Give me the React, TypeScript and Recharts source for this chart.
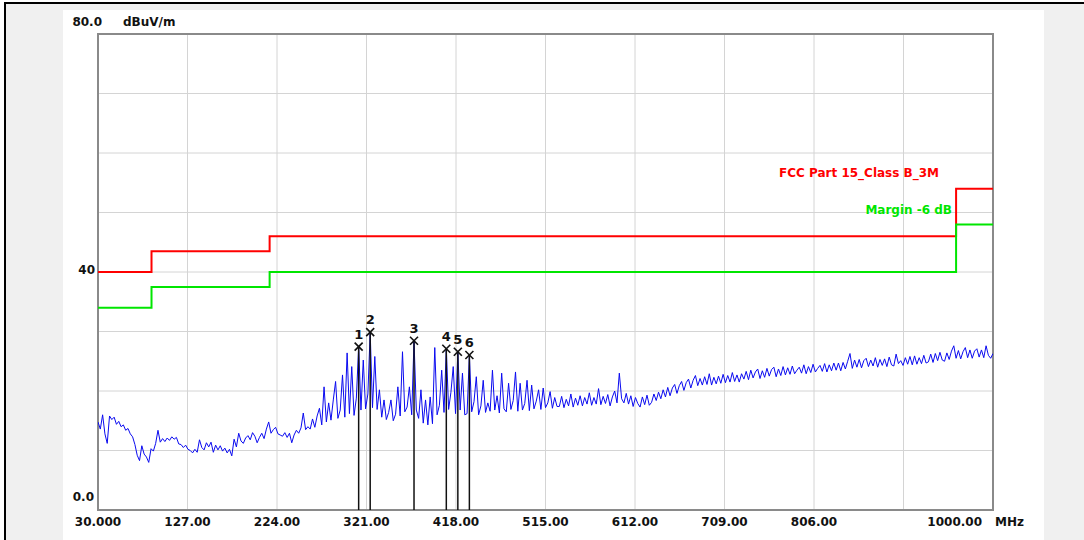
import React from 'react';
import {
  ComposedChart,
  Line,
  Scatter,
  XAxis,
  YAxis,
  CartesianGrid,
  ReferenceLine,
  ReferenceArea,
} from 'recharts';

// ---- sweep: measured level (dBuV/m), one reading every 2.5 MHz ----
const SWEEP_STEP_MHZ = 2.5;

const trace030 = [
  14.8, 13.6, 16.0, 12.8, 11.2, 15.8, 15.2, 15.6, 14.4, 14.9,
  14.0, 14.3, 13.4, 13.7, 12.8, 12.3, 11.0, 9.2, 8.3, 10.8,
  9.4, 8.9, 8.0, 10.3, 9.9, 11.2, 13.4, 11.4, 12.0, 11.5,
  12.1, 11.7, 12.3, 11.9, 12.2, 11.1, 11.0, 10.5, 10.9, 10.2,
];
const trace130 = [
  10.0, 9.6, 10.2, 9.7, 11.8, 10.5, 10.1, 11.3, 10.6, 11.4,
  9.7, 10.9, 10.1, 10.8, 9.9, 10.4, 9.6, 10.2, 9.1, 11.9,
  10.6, 12.9, 11.6, 11.2, 12.1, 12.5, 11.8, 13.0, 12.4, 11.3,
  12.2, 12.9, 12.0, 13.6, 14.8, 12.9, 13.5, 13.9, 12.8, 12.6,
];
const trace230 = [
  12.4, 13.0, 12.2, 12.9, 11.3, 12.6, 13.4, 12.9, 13.8, 16.3,
  13.5, 14.0, 13.6, 15.3, 13.9, 15.8, 17.1, 14.3, 20.7, 14.8,
  18.0, 15.1, 18.5, 21.6, 15.4, 16.8, 22.7, 15.6, 26.4, 16.2,
  24.1, 15.9, 18.8, 27.45, 16.8, 25.2, 17.0, 19.5, 29.9, 17.2,
];
const trace330 = [
  25.8, 16.9, 20.2, 15.6, 18.5, 15.2, 16.4, 18.5, 15.0, 16.1,
  20.7, 15.8, 26.6, 16.5, 17.3, 20.7, 16.0, 28.45, 16.8, 15.4,
  20.2, 14.6, 18.5, 14.3, 19.0, 14.5, 27.3, 16.0, 17.6, 23.5,
  16.4, 27.1, 16.9, 19.8, 24.1, 16.2, 26.6, 16.8, 23.0, 16.0,
];
const trace430 = [
  16.2, 26.05, 16.5, 18.2, 22.4, 16.0, 17.5, 21.8, 16.4, 18.0,
  16.6, 23.5, 16.8, 19.2, 16.3, 23.0, 17.0, 16.5, 21.3, 16.9,
  18.4, 23.2, 16.6, 21.3, 16.8, 17.9, 21.8, 16.7, 21.0, 17.0,
  18.3, 20.2, 16.9, 20.5, 17.2, 18.0, 19.9, 17.1, 18.9, 17.4,
];
const trace530 = [
  17.4, 19.1, 17.2, 18.6, 17.5, 19.5, 17.3, 18.8, 17.6, 19.2,
  17.5, 18.9, 17.8, 19.7, 17.6, 18.9, 17.8, 20.4, 17.7, 19.1,
  17.9, 19.4, 17.5, 19.0, 20.0, 18.0, 23.0, 18.7, 18.0, 19.6,
  17.8, 19.2, 17.4, 18.9, 17.9, 17.3, 19.0, 17.7, 19.3, 17.6,
];
const trace630 = [
  18.1, 19.5, 18.4, 19.8, 18.7, 20.2, 19.0, 20.6, 19.2, 20.5,
  21.1, 19.6, 20.9, 21.6, 20.1, 21.4, 22.0, 20.5, 21.8, 22.6,
  20.9, 22.1, 21.0, 22.4, 21.1, 22.9, 21.0, 22.3, 21.2, 22.5,
  21.3, 22.8, 21.4, 22.6, 21.5, 23.1, 21.6, 22.7, 21.5, 22.9,
];
const trace730 = [
  22.0, 23.3, 21.9, 23.5, 22.2, 23.2, 23.7, 22.1, 23.4, 22.3,
  23.8, 22.5, 23.6, 24.0, 22.4, 23.7, 22.6, 24.1, 22.7, 23.9,
  22.8, 24.2, 22.9, 23.5, 24.0, 23.0, 24.4, 22.9, 24.1, 23.1,
  24.5, 23.2, 23.8, 24.3, 23.3, 24.6, 23.2, 24.4, 23.4, 24.7,
];
const trace830 = [
  23.5, 24.7, 23.4, 24.8, 23.7, 25.0, 26.3, 23.8, 25.2, 24.0,
  25.3, 23.9, 25.1, 25.5, 24.1, 25.2, 24.2, 25.6, 24.0, 25.3,
  24.3, 25.4, 24.1, 25.7, 24.4, 24.2, 26.2, 24.6, 25.1, 24.3,
  25.6, 24.5, 25.8, 24.4, 25.9, 24.5, 25.6, 24.6, 26.0, 24.7,
];
const trace930 = [
  24.9, 26.2, 24.8, 26.3, 25.1, 26.5, 25.2, 25.0, 26.4, 25.3,
  26.7, 27.6, 25.5, 26.8, 25.4, 26.6, 27.3, 25.6, 26.9, 25.5,
  26.7, 27.1, 25.7, 26.9, 25.6, 27.6, 26.0, 25.5, 26.3,
];

const traceSegments = [
  { startMHz: 30, levels: trace030 },
  { startMHz: 130, levels: trace130 },
  { startMHz: 230, levels: trace230 },
  { startMHz: 330, levels: trace330 },
  { startMHz: 430, levels: trace430 },
  { startMHz: 530, levels: trace530 },
  { startMHz: 630, levels: trace630 },
  { startMHz: 730, levels: trace730 },
  { startMHz: 830, levels: trace830 },
  { startMHz: 930, levels: trace930 },
];

// ---- limit lines ----
const limitFreqs = [30, 88, 216, 960, 1000];
const fccClassB3m = [40, 43.5, 46, 54, 54];
const margin6dB = [34, 37.5, 40, 48, 48];

// ---- markers ----
const markerFreqs = [312.5, 325, 372.5, 407.5, 420, 432.5];
const markerLevels = [27.45, 29.9, 28.45, 27.1, 26.6, 26.05];
const markerLabels = ['1', '2', '3', '4', '5', '6'];

// ---- axes ----
const freqTicks = [30, 127, 224, 321, 418, 515, 612, 709, 806, 903, 1000];
const freqTickLabels = ['30.000', '127.00', '224.00', '321.00', '418.00', '515.00', '612.00', '709.00', '806.00', '', '1000.00'];
const levelTicks = [0, 10, 20, 30, 40, 50, 60, 70, 80];
const levelTickLabels: Record<number, string> = { 0: '0.0', 40: '40', 80: '80.0' };

const traceData = traceSegments.flatMap((seg) =>
  seg.levels.map((level, i) => ({ freq: seg.startMHz + i * SWEEP_STEP_MHZ, level }))
);
const fccData = limitFreqs.map((freq, i) => ({ freq, level: fccClassB3m[i] }));
const marginData = limitFreqs.map((freq, i) => ({ freq, level: margin6dB[i] }));
const markerData = markerFreqs.map((freq, i) => ({ freq, level: markerLevels[i], label: markerLabels[i] }));

const FONT = '"DejaVu Sans", "Liberation Sans", sans-serif';
const textStyle = { fontFamily: FONT, fontWeight: 700, fontSize: 12, fill: '#111' } as const;

const FreqTick = (props: any) => {
  const { x, y, payload } = props;
  const idx = freqTicks.indexOf(payload.value);
  const label = idx >= 0 ? freqTickLabels[idx] : '';
  if (!label) return null;
  if (payload.value === 1000) {
    return (
      <g>
        <text x={x - 11} y={y + 16} textAnchor="end" style={textStyle}>{label}</text>
        <text x={x + 2} y={y + 16} textAnchor="start" style={textStyle}>MHz</text>
      </g>
    );
  }
  return (
    <text x={x} y={y + 16} textAnchor="middle" style={textStyle}>{label}</text>
  );
};

const LevelTick = (props: any) => {
  const { x, y, payload } = props;
  const label = levelTickLabels[payload.value];
  if (!label) return null;
  if (payload.value === 80) {
    return (
      <g>
        <text x={x + 4} y={y - 8} textAnchor="end" style={textStyle}>{label}</text>
        <text x={x + 25} y={y - 8} textAnchor="start" style={textStyle}>dBuV/m</text>
      </g>
    );
  }
  if (payload.value === 0) {
    return <text x={x - 4} y={y - 9} textAnchor="end" style={textStyle}>{label}</text>;
  }
  return <text x={x - 3} y={y + 2} textAnchor="end" style={textStyle}>{label}</text>;
};

const MarkerShape = (props: any) => {
  const { cx, cy, payload } = props;
  if (cx == null || cy == null) return null;
  const s = 4;
  return (
    <g>
      <line x1={cx - s} y1={cy - s} x2={cx + s} y2={cy + s} stroke="#111" strokeWidth={1.6} />
      <line x1={cx - s} y1={cy + s} x2={cx + s} y2={cy - s} stroke="#111" strokeWidth={1.6} />
      <text x={cx} y={cy - 8} textAnchor="middle" style={{ ...textStyle, fontSize: 13 }}>{payload.label}</text>
    </g>
  );
};

export default function App() {
  return (
    <div style={{ position: 'fixed', left: 0, top: 0, width: 1084, height: 540, background: '#ffffff', overflow: 'hidden' }}>
      <div style={{ position: 'absolute', left: 4, top: 2, right: 0, bottom: 0, background: '#f0f0f0', borderTop: '2px solid #000', borderLeft: '2px solid #000' }} />
      <div style={{ position: 'absolute', left: 63, top: 10, width: 981, height: 530, background: '#ffffff' }} />
      <div style={{ position: 'absolute', left: 0, top: 0 }}>
        <ComposedChart width={1084} height={540} margin={{ top: 34, right: 91, bottom: 0, left: 38 }}>
          <CartesianGrid stroke="#d4d4d4" strokeWidth={1} />
          <XAxis
            type="number"
            dataKey="freq"
            domain={[30, 1000]}
            ticks={freqTicks}
            interval={0}
            allowDataOverflow
            axisLine={false}
            tickLine={false}
            tickSize={0}
            tickMargin={0}
            height={30}
            tick={<FreqTick />}
          />
          <YAxis
            type="number"
            domain={[0, 80]}
            ticks={levelTicks}
            interval={0}
            allowDataOverflow
            axisLine={false}
            tickLine={false}
            tickSize={0}
            tickMargin={0}
            width={60}
            tick={<LevelTick />}
          />
          <ReferenceArea x1={30} x2={1000} y1={0} y2={80} fill="none" fillOpacity={0} stroke="#8a8a8a" strokeWidth={2} />
          <Line data={traceData} dataKey="level" type="linear" stroke="#0a0af0" strokeWidth={1} dot={false} isAnimationActive={false} />
          <Line data={fccData} dataKey="level" type="stepAfter" stroke="#ff0000" strokeWidth={2} dot={false} isAnimationActive={false} />
          <Line data={marginData} dataKey="level" type="stepAfter" stroke="#00e600" strokeWidth={2} dot={false} isAnimationActive={false} />
          {markerData.map((m) => (
            <ReferenceLine
              key={m.label}
              segment={[{ x: m.freq, y: 0 }, { x: m.freq, y: m.level }]}
              stroke="#111"
              strokeWidth={1.5}
            />
          ))}
          <Scatter data={markerData} dataKey="level" shape={<MarkerShape />} isAnimationActive={false} />
        </ComposedChart>
      </div>
      <div style={{ position: 'absolute', right: 145, top: 166, lineHeight: '14px', fontFamily: FONT, fontWeight: 700, fontSize: 12, color: '#ff0000', whiteSpace: 'nowrap' }}>
        FCC Part 15_Class B_3M
      </div>
      <div style={{ position: 'absolute', right: 132, top: 203, lineHeight: '14px', fontFamily: FONT, fontWeight: 700, fontSize: 12, color: '#00e600', whiteSpace: 'nowrap' }}>
        Margin -6 dB
      </div>
    </div>
  );
}
